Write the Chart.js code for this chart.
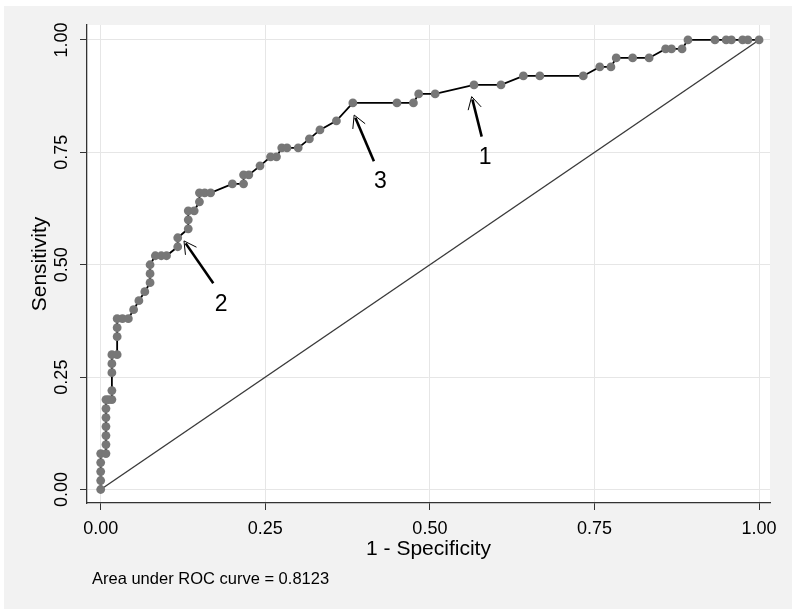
<!DOCTYPE html>
<html>
<head>
<meta charset="utf-8">
<script src="https://cdn.jsdelivr.net/npm/chart.js@4/dist/chart.umd.min.js"></script>
<style>
  html, body { margin: 0; padding: 0; background: #fff; }
  #wrap { position: absolute; left: 4px; top: 6px; width: 788px; height: 603px; background: #f2f2f2; }
</style>
</head>
<body>
<div id="wrap"><canvas id="rocChart" width="788" height="603"></canvas></div>
<script>
// 1 - specificity / sensitivity
const oneMinusSpec = [
  0, 0, 0, 0, 0, 0.008, 0.008, 0.008, 0.008, 0.008, 0.008, 0.008, 0.012, 0.017,
  0.017, 0.017, 0.017, 0.017, 0.025, 0.025, 0.025, 0.025, 0.033, 0.042, 0.050,
  0.058, 0.067, 0.075, 0.075, 0.075, 0.083, 0.092, 0.100, 0.117, 0.117, 0.133,
  0.133, 0.133, 0.142, 0.150, 0.150, 0.158, 0.167, 0.200, 0.217, 0.217, 0.225,
  0.242, 0.258, 0.267, 0.275, 0.283, 0.300, 0.317, 0.333, 0.358, 0.383, 0.450,
  0.475, 0.483, 0.508, 0.567, 0.608, 0.642, 0.667, 0.733, 0.758, 0.775, 0.783,
  0.808, 0.833, 0.858, 0.867, 0.883, 0.892, 0.933, 0.950, 0.958, 0.975, 0.983, 1.000
];
const sensitivity = [
  0, 0.02, 0.04, 0.06, 0.08, 0.08, 0.10, 0.12, 0.14, 0.16, 0.18, 0.20, 0.20, 0.20,
  0.22, 0.26, 0.28, 0.30, 0.30, 0.34, 0.36, 0.38, 0.38, 0.38, 0.40,
  0.42, 0.44, 0.46, 0.48, 0.50, 0.52, 0.52, 0.52, 0.54, 0.56, 0.58,
  0.60, 0.62, 0.62, 0.64, 0.66, 0.66, 0.66, 0.68, 0.68, 0.70, 0.70,
  0.72, 0.74, 0.74, 0.76, 0.76, 0.76, 0.78, 0.80, 0.82, 0.86, 0.86,
  0.86, 0.88, 0.88, 0.90, 0.90, 0.92, 0.92, 0.92, 0.94, 0.94, 0.96,
  0.96, 0.96, 0.98, 0.98, 0.98, 1.00, 1.00, 1.00, 1.00, 1.00, 1.00, 1.00
];
const refX = [0, 1];
const refY = [0, 1];
const tickValues = [0, 0.25, 0.5, 0.75, 1];

// arrow annotations (data units)
const arrowLabels = ['1', '2', '3'];
const arrowTipX = [0.5635, 0.1265, 0.385];
const arrowTipY = [0.874, 0.553, 0.833];
const arrowTailX = [0.5787, 0.171, 0.415];
const arrowTailY = [0.785, 0.459, 0.730];
const labelX = [0.584, 0.183, 0.425];
const labelY = [0.738, 0.412, 0.685];

const FONT = '"Liberation Sans", Arial, Helvetica, sans-serif';

const plotBg = {
  id: 'plotBg',
  beforeDraw(chart) {
    const { ctx, chartArea: a } = chart;
    ctx.save();
    ctx.fillStyle = '#ffffff';
    ctx.fillRect(a.left, a.top, a.right - a.left, a.bottom - a.top);
    ctx.restore();
  }
};

const arrows = {
  id: 'arrows',
  afterDatasetsDraw(chart) {
    const { ctx, scales: { x, y } } = chart;
    ctx.save();
    ctx.strokeStyle = '#000';
    ctx.fillStyle = '#000';
    arrowLabels.forEach((lab, i) => {
      const tx = x.getPixelForValue(arrowTipX[i]);
      const ty = y.getPixelForValue(arrowTipY[i]);
      const sx = x.getPixelForValue(arrowTailX[i]);
      const sy = y.getPixelForValue(arrowTailY[i]);
      const ang = Math.atan2(sy - ty, sx - tx);
      ctx.lineWidth = 2.6;
      ctx.beginPath();
      ctx.moveTo(sx, sy);
      ctx.lineTo(tx + Math.cos(ang) * 3, ty + Math.sin(ang) * 3);
      ctx.stroke();
      ctx.lineWidth = 1;
      ctx.beginPath();
      ctx.moveTo(tx + 14 * Math.cos(ang + 0.5), ty + 14 * Math.sin(ang + 0.5));
      ctx.lineTo(tx, ty);
      ctx.lineTo(tx + 14 * Math.cos(ang - 0.5), ty + 14 * Math.sin(ang - 0.5));
      ctx.stroke();
      ctx.font = '23px ' + FONT;
      ctx.textAlign = 'center';
      ctx.textBaseline = 'middle';
      ctx.fillText(lab, x.getPixelForValue(labelX[i]), y.getPixelForValue(labelY[i]));
    });
    ctx.font = '16.5px ' + FONT;
    ctx.textAlign = 'left';
    ctx.textBaseline = 'alphabetic';
    ctx.fillText('Area under ROC curve = 0.8123', 88, 577.5);
    ctx.restore();
  }
};

const ctx = document.getElementById('rocChart').getContext('2d');
new Chart(ctx, {
  type: 'scatter',
  data: {
    datasets: [{
      label: 'ROC',
      data: oneMinusSpec.map((v, i) => ({ x: v, y: sensitivity[i] })),
      showLine: true,
      borderColor: '#000',
      borderWidth: 1.8,
      pointRadius: 4.4,
      pointBackgroundColor: '#777777',
      pointBorderWidth: 0,
      pointHoverRadius: 4.4
    }, {
      label: 'Reference',
      data: refX.map((v, i) => ({ x: v, y: refY[i] })),
      showLine: true,
      borderColor: '#3a3a3a',
      borderWidth: 1.4,
      pointRadius: 0
    }]
  },
  options: {
    responsive: false,
    animation: false,
    layout: { padding: { top: 19, right: 22, left: 0, bottom: 0 } },
    plugins: {
      legend: { display: false },
      tooltip: { enabled: false }
    },
    scales: {
      x: {
        type: 'linear',
        min: -0.0208,
        max: 1.0166,
        afterBuildTicks: (s) => { s.ticks = tickValues.map(v => ({ value: v })); },
        afterFit: (s) => { s.height = 106; },
        border: { color: '#333', width: 1.3 },
        grid: { color: '#e6e6e6', lineWidth: 1, tickColor: '#333', tickLength: 7 },
        ticks: {
          padding: 8,
          color: '#000',
          font: { family: FONT, size: 18 },
          callback: (v) => Number(v).toFixed(2)
        },
        title: {
          display: true,
          text: '1 - Specificity',
          color: '#000',
          font: { family: FONT, size: 21 },
          padding: { top: 0, bottom: 47 }
        }
      },
      y: {
        type: 'linear',
        min: -0.03,
        max: 1.0333,
        afterBuildTicks: (s) => { s.ticks = tickValues.map(v => ({ value: v })); },
        afterFit: (s) => { s.width = 83; },
        border: { color: '#333', width: 1.3 },
        grid: { color: '#e6e6e6', lineWidth: 1, tickColor: '#333', tickLength: 7 },
        ticks: {
          padding: 0,
          minRotation: 90,
          maxRotation: 90,
          crossAlign: 'center',
          color: '#000',
          font: { family: FONT, size: 18 },
          callback: (v) => Number(v).toFixed(2)
        },
        title: {
          display: true,
          text: 'Sensitivity',
          color: '#000',
          font: { family: FONT, size: 21 },
          padding: { top: 24, bottom: 0 }
        }
      }
    }
  },
  plugins: [plotBg, arrows]
});
</script>
</body>
</html>
